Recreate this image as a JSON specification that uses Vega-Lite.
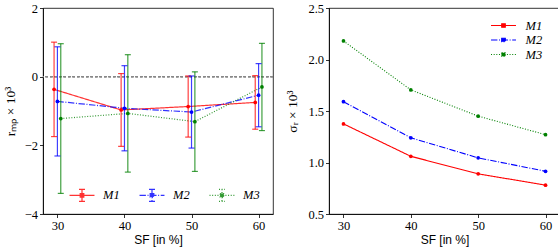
{
  "$schema": "https://vega.github.io/schema/vega-lite/v6.json",
  "padding": {"left": 2, "top": 1, "right": 2, "bottom": 2},
  "spacing": 11,
  "resolve": {"scale": {"color": "independent", "strokeDash": "independent"}, "legend": {"color": "independent", "strokeDash": "independent"}},
  "config": {
    "view": {"stroke": "black", "strokeWidth": 0.8},
    "axis": {
      "grid": false,
      "domainColor": "black",
      "domainWidth": 0.8,
      "tickColor": "black",
      "tickSize": 3.5,
      "tickWidth": 0.8,
      "labelFont": "Liberation Serif",
      "labelFontSize": 12.5,
      "labelColor": "black",
      "labelPadding": 2,
      "titleColor": "black",
      "titleFontWeight": "normal"
    },
    "axisX": {"titleFont": "Liberation Sans", "titleFontSize": 12, "titlePadding": 2},
    "axisY": {"titleFont": "Liberation Serif", "titleFontSize": 13.5, "titlePadding": 7}
  },
  "datasets": {
    "rmp": [
      {"sf": 30, "pos": 29.5, "model": "M1", "r": -0.37, "lo": -1.745, "hi": 1.005},
      {"sf": 40, "pos": 39.5, "model": "M1", "r": -0.97, "lo": -2.03, "hi": 0.09},
      {"sf": 50, "pos": 49.5, "model": "M1", "r": -0.87, "lo": -1.76, "hi": 0.02},
      {"sf": 60, "pos": 59.5, "model": "M1", "r": -0.75, "lo": -1.53, "hi": 0.03},
      {"sf": 30, "pos": 30, "model": "M2", "r": -0.72, "lo": -2.31, "hi": 0.87},
      {"sf": 40, "pos": 40, "model": "M2", "r": -0.92, "lo": -2.16, "hi": 0.32},
      {"sf": 50, "pos": 50, "model": "M2", "r": -1.03, "lo": -2.08, "hi": 0.02},
      {"sf": 60, "pos": 60, "model": "M2", "r": -0.54, "lo": -1.46, "hi": 0.38},
      {"sf": 30, "pos": 30.5, "model": "M3", "r": -1.22, "lo": -3.40, "hi": 0.96},
      {"sf": 40, "pos": 40.5, "model": "M3", "r": -1.07, "lo": -2.78, "hi": 0.64},
      {"sf": 50, "pos": 50.5, "model": "M3", "r": -1.31, "lo": -2.76, "hi": 0.14},
      {"sf": 60, "pos": 60.5, "model": "M3", "r": -0.30, "lo": -1.57, "hi": 0.97}
    ],
    "sig": [
      {"sf": 30, "model": "M1", "s": 1.375},
      {"sf": 40, "model": "M1", "s": 1.06},
      {"sf": 50, "model": "M1", "s": 0.89},
      {"sf": 60, "model": "M1", "s": 0.78},
      {"sf": 30, "model": "M2", "s": 1.59},
      {"sf": 40, "model": "M2", "s": 1.24},
      {"sf": 50, "model": "M2", "s": 1.045},
      {"sf": 60, "model": "M2", "s": 0.915},
      {"sf": 30, "model": "M3", "s": 2.18},
      {"sf": 40, "model": "M3", "s": 1.705},
      {"sf": 50, "model": "M3", "s": 1.45},
      {"sf": 60, "model": "M3", "s": 1.27}
    ]
  },
  "hconcat": [
    {
      "width": 230,
      "height": 206,
      "data": {"name": "rmp"},
      "layer": [
        {
          "mark": {"type": "rule", "color": "#888888", "strokeDash": [2.5, 2], "strokeWidth": 0.7},
          "encoding": {"y": {"datum": 0, "type": "quantitative", "scale": {"domain": [-4, 2], "nice": false, "zero": false}, "axis": {"values": [-4, -2, 0, 2], "format": "d", "title": "rₘₚ × 10³"}}}
        },
        {
          "mark": {"type": "line", "strokeWidth": 1.2, "opacity": 0.8},
          "encoding": {
            "x": {"field": "pos", "type": "quantitative", "scale": {"domain": [27.85, 62.15], "nice": false, "zero": false}, "axis": {"values": [30, 40, 50, 60], "title": "SF [in %]"}},
            "y": {"field": "r", "type": "quantitative", "title": "rₘₚ × 10³"},
            "color": {"field": "model", "type": "nominal", "scale": {"domain": ["M1", "M2", "M3"], "range": ["#ff0000", "#0000ff", "#008000"]}, "legend": {"title": null, "orient": "none", "legendX": 32, "legendY": 180, "direction": "horizontal", "columns": 3, "symbolType": "M-2.08,0H2.08M0,-1V1M-0.5,-1H0.5M-0.5,1H0.5M-0.3,-0.3H0.3V0.3H-0.3Z", "symbolSize": 144, "symbolStrokeWidth": 1.2, "labelFont": "Liberation Serif", "labelFontStyle": "italic", "labelFontSize": 12.5, "labelOffset": 14, "columnPadding": 17}},
            "strokeDash": {"field": "model", "type": "nominal", "scale": {"domain": ["M1", "M2", "M3"], "range": [[1, 0], [6.4, 1.6, 1, 1.6], [1, 1.65]]}, "legend": {"title": null, "orient": "none", "legendX": 32, "legendY": 180, "direction": "horizontal", "columns": 3, "symbolType": "M-2.08,0H2.08M0,-1V1M-0.5,-1H0.5M-0.5,1H0.5M-0.3,-0.3H0.3V0.3H-0.3Z", "symbolSize": 144, "symbolStrokeWidth": 1.2, "labelFont": "Liberation Serif", "labelFontStyle": "italic", "labelFontSize": 12.5, "labelOffset": 14, "columnPadding": 17}}
          }
        },
        {
          "mark": {"type": "rule", "strokeWidth": 1.2, "opacity": 0.75},
          "encoding": {
            "x": {"field": "pos", "type": "quantitative", "title": "SF [in %]"},
            "y": {"field": "lo", "type": "quantitative", "title": "rₘₚ × 10³"},
            "y2": {"field": "hi"},
            "color": {"field": "model", "type": "nominal", "legend": null}
          }
        },
        {
          "mark": {"type": "tick", "orient": "horizontal", "size": 6, "thickness": 1.2, "opacity": 0.75},
          "encoding": {
            "x": {"field": "pos", "type": "quantitative", "title": "SF [in %]"},
            "y": {"field": "lo", "type": "quantitative", "title": "rₘₚ × 10³"},
            "color": {"field": "model", "type": "nominal", "legend": null}
          }
        },
        {
          "mark": {"type": "tick", "orient": "horizontal", "size": 6, "thickness": 1.2, "opacity": 0.75},
          "encoding": {
            "x": {"field": "pos", "type": "quantitative", "title": "SF [in %]"},
            "y": {"field": "hi", "type": "quantitative", "title": "rₘₚ × 10³"},
            "color": {"field": "model", "type": "nominal", "legend": null}
          }
        },
        {
          "mark": {"type": "point", "filled": true, "size": 14, "opacity": 1, "shape": "circle"},
          "encoding": {
            "x": {"field": "pos", "type": "quantitative", "title": "SF [in %]"},
            "y": {"field": "r", "type": "quantitative", "title": "rₘₚ × 10³"},
            "color": {"field": "model", "type": "nominal", "legend": null}
          }
        }
      ]
    },
    {
      "width": 231,
      "height": 206,
      "data": {"name": "sig"},
      "layer": [
        {
          "mark": {"type": "line", "strokeWidth": 1.1},
          "encoding": {
            "x": {"field": "sf", "type": "quantitative", "scale": {"domain": [27.85, 62.15], "nice": false, "zero": false}, "axis": {"values": [30, 40, 50, 60], "title": "SF [in %]"}},
            "y": {"field": "s", "type": "quantitative", "scale": {"domain": [0.5, 2.5], "nice": false, "zero": false}, "axis": {"values": [0.5, 1.0, 1.5, 2.0, 2.5], "format": ".1f", "title": "σᵣ × 10³", "titlePadding": 8}},
            "color": {"field": "model", "type": "nominal", "scale": {"domain": ["M1", "M2", "M3"], "range": ["#ff0000", "#0000ff", "#008000"]}, "legend": {"title": null, "orient": "none", "legendX": 167.5, "legendY": 10.5, "direction": "vertical", "symbolType": "M-2.08,0H2.08M-0.3,-0.3H0.3V0.3H-0.3Z", "symbolSize": 144, "symbolStrokeWidth": 1.1, "labelFont": "Liberation Serif", "labelFontStyle": "italic", "labelFontSize": 12.5, "labelOffset": 15, "rowPadding": 0.5}},
            "strokeDash": {"field": "model", "type": "nominal", "scale": {"domain": ["M1", "M2", "M3"], "range": [[1, 0], [6.4, 1.6, 1, 1.6], [1, 1.65]]}, "legend": {"title": null, "orient": "none", "legendX": 167.5, "legendY": 10.5, "direction": "vertical", "symbolType": "M-2.08,0H2.08M-0.3,-0.3H0.3V0.3H-0.3Z", "symbolSize": 144, "symbolStrokeWidth": 1.1, "labelFont": "Liberation Serif", "labelFontStyle": "italic", "labelFontSize": 12.5, "labelOffset": 15, "rowPadding": 0.5}}
          }
        },
        {
          "mark": {"type": "point", "filled": true, "size": 14, "opacity": 1, "shape": "circle"},
          "encoding": {
            "x": {"field": "sf", "type": "quantitative", "title": "SF [in %]"},
            "y": {"field": "s", "type": "quantitative", "title": "σᵣ × 10³"},
            "color": {"field": "model", "type": "nominal", "legend": null}
          }
        }
      ]
    }
  ]
}
